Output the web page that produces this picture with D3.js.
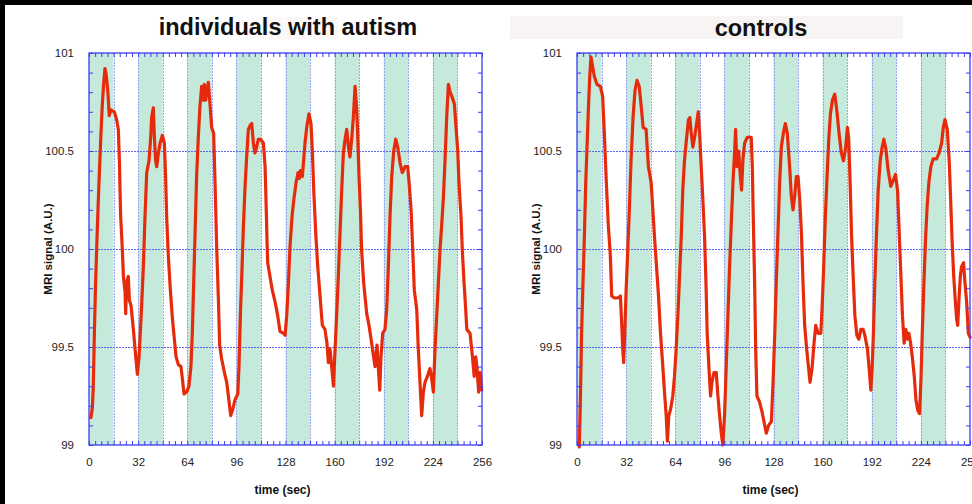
<!DOCTYPE html>
<html><head><meta charset="utf-8">
<script src="https://cdn.jsdelivr.net/npm/d3@7"></script>
<style>body{margin:0;background:#000;}svg{display:block}</style>
</head><body><svg id="c" width="972" height="504"></svg>
<script>
// ---------- data ----------
const panelTitles = ["individuals with autism", "controls"];
const xTicks = [0, 32, 64, 96, 128, 160, 192, 224, 256];
const yTicks = [99, 99.5, 100, 100.5, 101];
const yTickLabels = ["99", "99.5", "100", "100.5", "101"];
const blockStarts = [0, 32, 64, 96, 128, 160, 192, 224];
const blockLength = 16;
const xLabel = "time (sec)";
const yLabel = "MRI signal (A.U.)";

const autismTime = [1.3,2.2,2.8,3.5,4.3,5.4,6.5,7.8,8.7,9.6,10.4,11.2,12.2,13.2,14.2,16.5,18,19.1,19.8,20.6,21.7,22.4,23.5,23.9,24.5,25.6,26.3,27.4,28.9,30,31.5,32.6,33.4,34.3,35.4,36.5,37.6,39.1,40.2,40.8,41.9,42.6,43.4,44.1,45.2,46.3,47.8,49.1,49.9,50.6,51.7,53,54.3,55.6,56.7,58.2,59.9,60.8,61.9,63.6,65.1,66.4,67.3,68.2,69.1,70.1,71.2,72.3,73.4,74.5,75.1,76,76.9,77.7,78.8,79.9,81.2,82.1,83.2,84.3,85.1,86.4,88.2,89.7,90.8,92.3,93.6,95.1,96.9,97.7,98.6,99.5,100.5,101.6,102.7,103.8,104.9,106,107.1,108.1,109.2,110.3,111.8,113.6,114.7,115.3,116,116.4,117.9,119.4,121.2,122.9,124.4,126.6,127.7,128.8,129.9,131,132.3,133.4,134.9,136.2,137,137.7,139,139.8,140.7,141.8,143.3,144.6,145.5,146.4,147.7,149,150.5,152,153.7,155,155.9,157,158.1,159.2,160.3,161.3,162.4,163.5,164.6,165.7,166.8,167.9,169,170,171.1,172.2,173.3,174.4,175,175.9,176.8,177.6,178.9,180.9,182.4,184.1,185.4,186.3,187.6,188.5,189.4,190.2,191.3,192.8,193.9,195,196.1,197.2,198.5,199.8,201.1,202.6,204.1,205.9,207.6,208.5,209.8,210.9,211.9,213.5,214.5,215.6,216.7,217.8,218.9,220.4,222.1,223.2,224.3,225.4,226.5,227.6,228.7,229.8,230.9,231.9,233,234.1,235.2,236.3,238,239.1,240.2,241,242.3,243.2,244.3,245.4,246.1,248.2,249.8,250.9,251.9,252.8,253.8,254.7,255.8];
const autismSignal = [99.14,99.19,99.30,99.57,99.83,100.10,100.34,100.59,100.74,100.85,100.92,100.89,100.81,100.68,100.71,100.70,100.66,100.61,100.45,100.17,100.00,99.86,99.78,99.67,99.83,99.86,99.74,99.71,99.59,99.49,99.36,99.45,99.57,99.71,99.91,100.17,100.39,100.45,100.57,100.67,100.72,100.57,100.45,100.42,100.49,100.54,100.58,100.54,100.37,100.16,99.96,99.79,99.65,99.54,99.45,99.41,99.40,99.34,99.26,99.27,99.30,99.40,99.57,99.83,100.08,100.37,100.57,100.73,100.83,100.76,100.84,100.76,100.81,100.85,100.74,100.62,100.59,100.34,100.00,99.74,99.51,99.44,99.37,99.32,99.25,99.15,99.18,99.23,99.26,99.40,99.66,99.86,100.10,100.31,100.47,100.61,100.63,100.64,100.54,100.49,100.52,100.56,100.56,100.54,100.42,100.25,100.03,99.93,99.86,99.79,99.73,99.66,99.58,99.57,99.56,99.66,99.83,100.02,100.17,100.25,100.34,100.39,100.36,100.40,100.37,100.45,100.54,100.62,100.69,100.64,100.50,100.30,100.08,99.91,99.76,99.61,99.59,99.52,99.42,99.49,99.40,99.30,99.49,99.66,99.86,100.08,100.30,100.49,100.56,100.61,100.52,100.47,100.56,100.67,100.83,100.71,100.59,100.37,100.20,99.99,99.83,99.67,99.61,99.52,99.45,99.40,99.51,99.39,99.28,99.45,99.57,99.59,99.69,99.91,100.17,100.37,100.50,100.56,100.52,100.44,100.39,100.42,100.42,100.34,100.20,99.99,99.79,99.69,99.49,99.32,99.15,99.27,99.32,99.35,99.39,99.34,99.27,99.49,99.66,99.83,100.00,100.13,100.27,100.45,100.67,100.84,100.80,100.78,100.74,100.62,100.50,100.34,100.17,99.99,99.83,99.69,99.59,99.57,99.45,99.35,99.45,99.39,99.27,99.37,99.28];

const controlTime = [1.5,2.2,3,3.9,4.8,5.7,6.5,7.4,8.3,9.1,10.2,11.3,13,15.2,16.7,17.8,19.1,20.4,21.7,22.6,24.4,26.5,28.3,29.1,29.8,30.4,31.1,32,33.1,34.1,35.2,36.5,37.8,39.1,40.5,41.8,43.1,45,46.5,48.3,49.4,50.5,51.8,53.1,54.4,55.9,57,58.1,58.9,59.8,60.9,62.4,63.5,64.6,65.7,66.8,67.9,68.9,70,71.3,72.6,73.5,74.4,75.5,76.6,77.9,79,80,80.9,82,83.1,84,84.8,85.9,87,87.9,89.2,90.7,91.8,92.9,94,95,96.1,97.2,98.3,99.4,100.5,101.6,102.7,103.3,104.2,105.3,106.4,107.2,108.1,109.2,110.9,113.5,114.2,114.8,115.7,116.4,117.2,118.9,120.5,121.8,123.3,124.8,126.6,127.7,128.8,129.8,130.9,132,133.1,134.4,135.7,137,138.5,139.6,140.7,141.8,142.9,144,145.1,146.2,147.2,148.3,149.6,150.9,151.8,153.1,154.4,155.5,157,158.8,159.6,160.7,161.8,162.9,164,165.1,166.4,167.9,169.2,170.7,172.2,173.6,174.9,176.2,177,177.9,178.8,179.9,181,182.3,183.6,184.9,186.4,187.5,189.2,190.3,191.4,192.3,193.1,194,195.1,196.2,197.5,198.8,199.9,201.2,202.7,204.4,206,207.5,208.8,209.9,211,212,213.1,214.2,215.3,216.2,217.3,218.4,219.7,220.8,221.9,223.1,224,224.9,226,227.1,228.1,229.2,230.5,232,234.2,235.9,237.5,238.6,239.7,241.2,242.5,243.4,244.4,245.4,246.4,247.3,248,248.8,249.7,250.5,251.8,252.7,253.8,254.9,256];
const controlSignal = [98.99,99.23,99.57,99.83,100.06,100.34,100.51,100.71,100.88,100.98,100.93,100.88,100.84,100.83,100.78,100.59,100.34,100.12,99.97,99.76,99.75,99.75,99.76,99.62,99.49,99.42,99.57,99.79,100.00,100.20,100.45,100.67,100.81,100.86,100.83,100.73,100.62,100.61,100.42,100.34,100.20,100.06,99.91,99.76,99.57,99.40,99.27,99.15,99.02,99.15,99.18,99.25,99.35,99.49,99.66,99.86,100.06,100.30,100.45,100.56,100.66,100.67,100.59,100.52,100.57,100.64,100.70,100.57,100.42,100.25,100.06,99.83,99.57,99.40,99.25,99.32,99.37,99.37,99.25,99.15,99.06,99.00,99.15,99.40,99.66,99.91,100.13,100.34,100.50,100.61,100.42,100.50,100.37,100.30,100.46,100.54,100.57,100.57,100.42,100.17,99.83,99.49,99.25,99.22,99.17,99.12,99.06,99.10,99.12,99.32,99.56,99.83,100.08,100.34,100.52,100.59,100.64,100.59,100.42,100.27,100.20,100.27,100.37,100.37,100.25,100.08,99.83,99.61,99.49,99.39,99.32,99.39,99.52,99.61,99.57,99.57,99.69,99.91,100.17,100.37,100.56,100.69,100.76,100.79,100.71,100.59,100.49,100.45,100.51,100.62,100.56,100.34,100.08,99.86,99.66,99.56,99.54,99.59,99.59,99.56,99.49,99.39,99.28,99.40,99.57,99.83,100.08,100.30,100.45,100.52,100.56,100.51,100.40,100.32,100.35,100.38,100.30,100.08,99.86,99.66,99.52,99.59,99.54,99.57,99.52,99.45,99.35,99.23,99.18,99.16,99.32,99.57,99.83,100.06,100.22,100.34,100.42,100.46,100.46,100.49,100.54,100.62,100.66,100.61,100.44,100.25,100.03,99.86,99.74,99.64,99.61,99.74,99.86,99.91,99.93,99.83,99.73,99.57,99.55];

// ---------- layout ----------
const svg = d3.select("#c");
svg.append("rect").attr("x",0).attr("y",0).attr("width",972).attr("height",504).attr("fill","#000");
svg.append("rect").attr("x",5).attr("y",5).attr("width",967).attr("height",499).attr("fill","#fff");

const FONT = "'Liberation Sans', Arial, Helvetica, sans-serif";
const BLUE = "#3c3cf0";
const panels = [
  {title: panelTitles[0], t: autismTime, v: autismSignal, x0: 89, x1: 482, titleX: 288, titleY: 35,
   titleBg: {x: 262, y: 17, w: 76, h: 22, fill: "#fbf8f7"}},
  {title: panelTitles[1], t: controlTime, v: controlSignal, x0: 577, x1: 970, titleX: 761, titleY: 36,
   titleBg: {x: 510, y: 16, w: 393, h: 23, fill: "#f8f4f3"}}
];
const yTop = 53, yBottom = 445;
const crisp = v => Math.round(v) + 0.5;

panels.forEach(p => {
  const g = svg.append("g");
  const x = d3.scaleLinear().domain([0, 256]).range([p.x0, p.x1]);
  const y = d3.scaleLinear().domain([99, 101]).range([yBottom, yTop]);

  // title
  g.append("rect").attr("x", p.titleBg.x).attr("y", p.titleBg.y).attr("width", p.titleBg.w)
    .attr("height", p.titleBg.h).attr("fill", p.titleBg.fill);
  g.append("text").attr("x", p.titleX).attr("y", p.titleY).attr("text-anchor","middle")
    .attr("font-family", FONT).attr("font-weight","bold").attr("font-size", 23.5).attr("fill","#111")
    .text(p.title);

  // stimulus blocks
  g.selectAll("rect.block").data(blockStarts).join("rect").attr("class","block")
    .attr("x", d => x(d)).attr("y", yTop)
    .attr("width", d => x(d + blockLength) - x(d)).attr("height", yBottom - yTop)
    .attr("fill", "#c5eadc");

  // vertical grid
  const vgrid = d3.range(16, 256, 16);
  g.selectAll("line.vg").data(vgrid).join("line").attr("class","vg")
    .attr("x1", d => crisp(x(d))).attr("x2", d => crisp(x(d))).attr("y1", yTop).attr("y2", yBottom)
    .attr("stroke", "#9aa2f4").attr("stroke-width", 1).attr("stroke-dasharray","2,1")
    .attr("shape-rendering","crispEdges");
  // horizontal grid
  g.selectAll("line.hg").data([99.5, 100, 100.5]).join("line").attr("class","hg")
    .attr("x1", p.x0).attr("x2", p.x1).attr("y1", d => crisp(y(d))).attr("y2", d => crisp(y(d)))
    .attr("stroke", "#5a64f0").attr("stroke-width", 1).attr("stroke-dasharray","2,1")
    .attr("shape-rendering","crispEdges");

  // data line
  const pts = p.t.map((t, i) => [t, p.v[i]]);
  g.append("path").datum(pts)
    .attr("d", d3.line().x(d => x(d[0])).y(d => y(d[1])))
    .attr("fill","none").attr("stroke","#e62b0c").attr("stroke-width", 3.2)
    .attr("stroke-linejoin","round").attr("stroke-linecap","round");

  // frame
  g.append("rect").attr("x", p.x0).attr("y", yTop).attr("width", p.x1 - p.x0).attr("height", yBottom - yTop)
    .attr("fill","none").attr("stroke", BLUE).attr("stroke-width", 1.3);

  // minor ticks (inward)
  const minorX = d3.range(0, 257, 4);
  const minorY = d3.range(99, 101.001, 0.1);
  const styleTicks = s => { s.select(".domain").remove(); s.selectAll("line").attr("stroke", BLUE); };
  g.append("g").attr("transform", `translate(0,${yBottom})`)
    .call(d3.axisTop(x).tickValues(minorX).tickSize(4).tickFormat("")).call(styleTicks);
  g.append("g").attr("transform", `translate(0,${yTop})`)
    .call(d3.axisBottom(x).tickValues(minorX).tickSize(4).tickFormat("")).call(styleTicks);
  g.append("g").attr("transform", `translate(${p.x0},0)`)
    .call(d3.axisRight(y).tickValues(minorY).tickSize(4).tickFormat("")).call(styleTicks);
  g.append("g").attr("transform", `translate(${p.x1},0)`)
    .call(d3.axisLeft(y).tickValues(minorY).tickSize(4).tickFormat("")).call(styleTicks);

  // tick labels
  g.append("g").attr("transform", `translate(0,${yBottom})`)
    .call(d3.axisBottom(x).tickValues(xTicks).tickSize(0).tickPadding(13).tickFormat(d3.format("d")))
    .call(s => { s.select(".domain").remove();
      s.selectAll("text").attr("font-family", FONT).attr("font-size", 11.5).attr("fill","#222"); });
  g.append("g").attr("transform", `translate(${p.x0},0)`)
    .call(d3.axisLeft(y).tickValues(yTicks).tickSize(0).tickPadding(15).tickFormat((d,i) => yTickLabels[i]))
    .call(s => { s.select(".domain").remove();
      s.selectAll("text").attr("font-family", FONT).attr("font-size", 11.5).attr("fill","#222"); });

  // axis titles
  g.append("text").attr("x", (p.x0 + p.x1) / 2 - 3).attr("y", 494).attr("text-anchor","middle")
    .attr("font-family", FONT).attr("font-weight","bold").attr("font-size", 12).attr("fill","#111")
    .text(xLabel);
  g.append("text").attr("transform", `translate(${p.x0 - 41},${(yTop + yBottom) / 2}) rotate(-90)`)
    .attr("text-anchor","middle").attr("dy","0.35em")
    .attr("font-family", FONT).attr("font-weight","bold").attr("font-size", 11.5).attr("fill","#111")
    .text(yLabel);
});
</script></body></html>
